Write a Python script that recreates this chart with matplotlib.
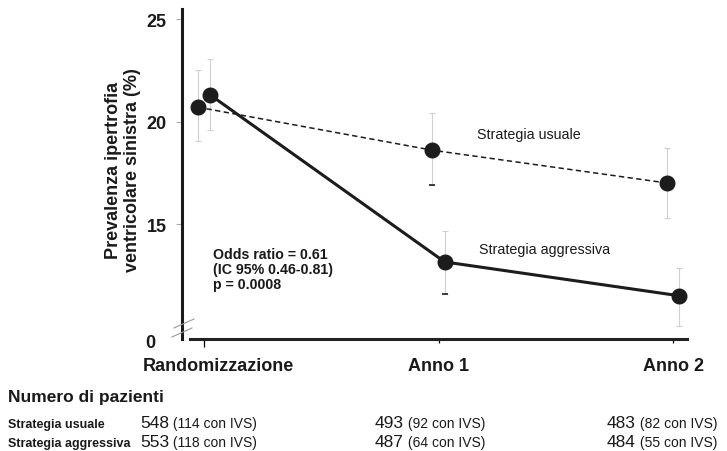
import numpy as np
import matplotlib
matplotlib.use("Agg")
import matplotlib.pyplot as plt
import matplotlib.transforms as mtransforms

plt.rcParams['font.family'] = ['Liberation Sans', 'DejaVu Sans']

# data
categories = ['Randomizzazione', 'Anno 1', 'Anno 2']
usual = [20.7, 18.6, 17.0]
usual_lo = [19.05, 16.9, 15.3]
usual_hi = [22.5, 20.4, 18.7]
aggr = [21.3, 13.15, 11.5]
aggr_lo = [19.6, 11.6, 10.0]
aggr_hi = [23.05, 14.66, 12.85]

ytick_vals = [15, 20, 25]
n_usual = [548, 493, 483]
ivs_usual = [114, 92, 82]
n_aggr = [553, 487, 484]
ivs_aggr = [118, 64, 55]

W, H = 727, 452
fig = plt.figure(figsize=(W / 100, H / 100), dpi=100)
ax = fig.add_axes([182 / W, 112 / H, 508 / W, 330 / H])

x = np.arange(len(categories))
off = 0.026
ymin, ymax = 9.39, 25.49
ax.set_xlim(-0.094, 2.072)
ax.set_ylim(ymin, ymax)

mk = '#1c1c1c'
# error bars
ax.errorbar(x - off, usual, yerr=[np.subtract(usual, usual_lo), np.subtract(usual_hi, usual)],
            fmt='none', ecolor='#cfcfcf', elinewidth=0.8, capsize=2.5, capthick=0.8, zorder=1)
ax.errorbar(x + off, aggr, yerr=[np.subtract(aggr, aggr_lo), np.subtract(aggr_hi, aggr)],
            fmt='none', ecolor='#cfcfcf', elinewidth=0.8, capsize=2.5, capthick=0.8, zorder=1)
# darker lower caps at Anno 1
ax.plot([x[1] - off, x[1] + off], [usual_lo[1], aggr_lo[1]], ls='none', marker='_',
        ms=5, mew=1.2, color='#222222', zorder=1.5)

# lines
ax.plot(x - off, usual, color='#1c1c1c', lw=1.1, dashes=(3.5, 2.2), zorder=2)
ax.plot(x + off, aggr, color='#1c1c1c', lw=2.2, zorder=2)
ax.plot(x - off, usual, ls='none', marker='o', ms=10.5, color=mk, zorder=3)
ax.plot(x + off, aggr, ls='none', marker='o', ms=10.5, color=mk, zorder=3)

# spines
for s in ['top', 'right']:
    ax.spines[s].set_visible(False)
ax.spines['left'].set_linewidth(2.2)
ax.spines['left'].set_color('#1a1a1a')
ax.spines['bottom'].set_linewidth(2.2)
ax.spines['bottom'].set_color('#222222')
ax.spines['bottom'].set_bounds(-0.06, 2.06)

# y ticks
ax.set_yticks([ymin] + ytick_vals)
ax.set_yticklabels(['0'] + [str(v) for v in ytick_vals])
ax.tick_params(axis='y', length=4, width=0.8, color='#aaaaaa', pad=7,
               labelsize=13)
for lab in ax.get_yticklabels():
    lab.set_fontweight('bold')
    lab.set_color('#1a1a1a')
ylabs = ax.get_yticklabels()
ylabs[0].set_transform(ylabs[0].get_transform() +
                       mtransforms.ScaledTranslation(-11 / 100, -2 / 100, fig.dpi_scale_trans))
ax.yaxis.get_major_ticks()[0].tick1line.set_visible(False)

# x ticks
ax.set_xticks(x)
ax.set_xticklabels(categories)
ax.tick_params(axis='x', length=6, width=0.9, pad=7, labelsize=13)
for i, lab in enumerate(ax.get_xticklabels()):
    lab.set_fontweight('bold')
    lab.set_color('#1a1a1a')
xticks = ax.xaxis.get_major_ticks()
xticks[0].tick1line.set_color('#111111')
for t in xticks[1:]:
    t.tick1line.set_color('#e6e6e6')
    t.tick1line.set_markersize(3)
xl = ax.get_xticklabels()
xl[0].set_transform(xl[0].get_transform() +
                    mtransforms.ScaledTranslation(14 / 100, 0, fig.dpi_scale_trans))

# axis break marks
def px(xp, yp):
    return ((xp - 182) / 508, (340 - yp) / 330)
for (a, b) in [((174, 329), (194, 320)), ((172, 338), (192, 329))]:
    p1, p2 = px(*a), px(*b)
    ax.plot([p1[0], p2[0]], [p1[1], p2[1]], transform=ax.transAxes, color='#9a9a9a',
            lw=0.8, clip_on=False, zorder=5)

# y label
fig.text(123 / W, 1 - 170 / H, 'Prevalenza ipertrofia\nventricolare sinistra (%)',
         rotation=90, ha='center', va='center', fontsize=13, fontweight='bold',
         color='#1a1a1a', linespacing=1.1)

# annotations
ax.text(0.038, 13.88, 'Odds ratio = 0.61\n(IC 95% 0.46-0.81)\np = 0.0008', ha='left', va='top',
        fontsize=10.2, fontweight='bold', color='#1a1a1a', linespacing=1.1)
ax.text(1.164, 19.39, 'Strategia usuale', ha='left', va='center', fontsize=10.3, color='#1a1a1a')
ax.text(1.173, 13.78, 'Strategia aggressiva', ha='left', va='center', fontsize=10.3,
        color='#1a1a1a')

# patient numbers table
fig.text(8 / W, 1 - 398 / H, 'Numero di pazienti', ha='left', va='center', fontsize=12.5,
         fontweight='bold', color='#1a1a1a')
row_y = [1 - 428 / H, 1 - 447 / H]
fig.text(8 / W, row_y[0], 'Strategia usuale', ha='left', va='baseline', fontsize=9,
         fontweight='bold', color='#1a1a1a')
fig.text(8 / W, row_y[1], 'Strategia aggressiva', ha='left', va='baseline', fontsize=9,
         fontweight='bold', color='#1a1a1a')
col_x = [140 / W, 375 / W, 607 / W]
fig.canvas.draw()
renderer = fig.canvas.get_renderer()
for row, (ns, ivs) in enumerate([(n_usual, ivs_usual), (n_aggr, ivs_aggr)]):
    for cx, n, v in zip(col_x, ns, ivs):
        t = fig.text(cx, row_y[row], str(n), ha='left', va='baseline', fontsize=12.5,
                     color='#1a1a1a')
        bb = t.get_window_extent(renderer)
        fig.text(bb.x1 / W, row_y[row], f' ({v} con IVS)', ha='left', va='baseline',
                 fontsize=10, color='#1a1a1a')

fig.savefig('out.png', dpi=100)
